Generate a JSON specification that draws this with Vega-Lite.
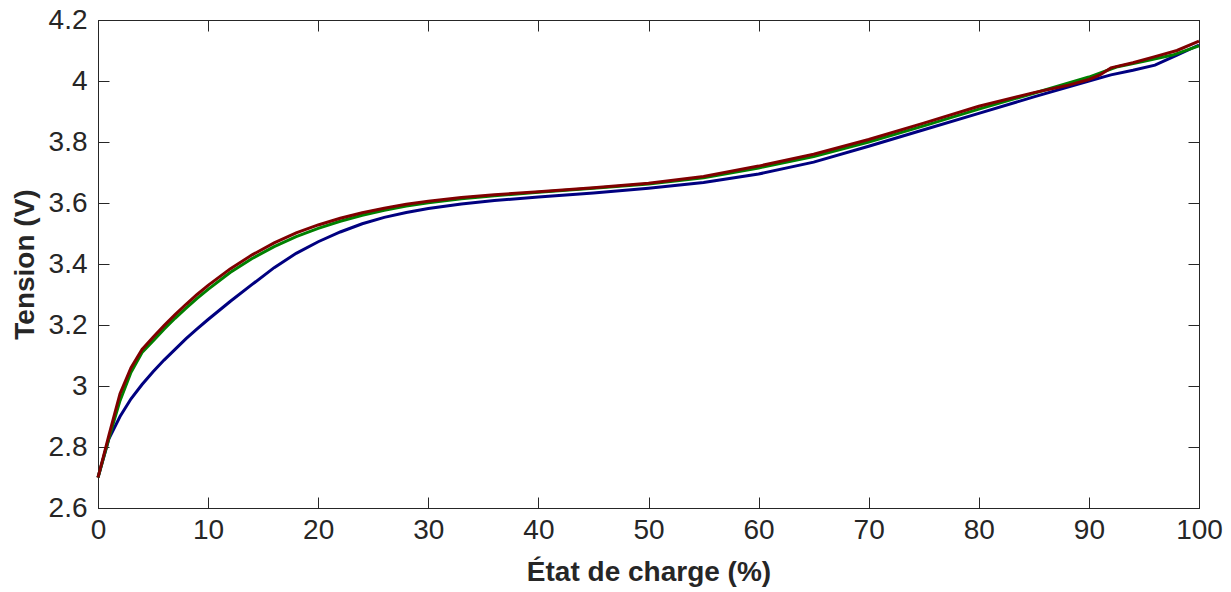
{
  "$schema": "https://vega.github.io/schema/vega-lite/v6.json",
  "autosize": "none",
  "padding": {"left": 98, "top": 20, "right": 32, "bottom": 84},
  "width": 1101,
  "height": 488,
  "background": "white",
  "config": {
    "view": {"stroke": "#262626", "strokeWidth": 1},
    "axis": {
      "grid": false,
      "domainColor": "#262626",
      "tickColor": "#262626",
      "tickSize": -11,
      "labelFont": "Liberation Sans",
      "labelFontSize": 28,
      "labelColor": "#262626",
      "labelFlush": false,
      "labelOverlap": false,
      "labelBound": false,
      "titleFont": "Liberation Sans",
      "titleFontSize": 28,
      "titleFontWeight": "bold",
      "titleColor": "#262626"
    }
  },
  "data": {
    "values": [
      {"soc": 0, "v": 2.70, "s": "S1"},
      {"soc": 1, "v": 2.828, "s": "S1"},
      {"soc": 2, "v": 2.90, "s": "S1"},
      {"soc": 3, "v": 2.958, "s": "S1"},
      {"soc": 4, "v": 3.005, "s": "S1"},
      {"soc": 5, "v": 3.047, "s": "S1"},
      {"soc": 6, "v": 3.085, "s": "S1"},
      {"soc": 7, "v": 3.12, "s": "S1"},
      {"soc": 8, "v": 3.155, "s": "S1"},
      {"soc": 9, "v": 3.187, "s": "S1"},
      {"soc": 10, "v": 3.218, "s": "S1"},
      {"soc": 12, "v": 3.277, "s": "S1"},
      {"soc": 14, "v": 3.333, "s": "S1"},
      {"soc": 16, "v": 3.388, "s": "S1"},
      {"soc": 18, "v": 3.435, "s": "S1"},
      {"soc": 20, "v": 3.473, "s": "S1"},
      {"soc": 22, "v": 3.505, "s": "S1"},
      {"soc": 24, "v": 3.532, "s": "S1"},
      {"soc": 26, "v": 3.553, "s": "S1"},
      {"soc": 28, "v": 3.569, "s": "S1"},
      {"soc": 30, "v": 3.582, "s": "S1"},
      {"soc": 33, "v": 3.597, "s": "S1"},
      {"soc": 36, "v": 3.608, "s": "S1"},
      {"soc": 40, "v": 3.62, "s": "S1"},
      {"soc": 45, "v": 3.633, "s": "S1"},
      {"soc": 50, "v": 3.648, "s": "S1"},
      {"soc": 55, "v": 3.667, "s": "S1"},
      {"soc": 60, "v": 3.695, "s": "S1"},
      {"soc": 65, "v": 3.734, "s": "S1"},
      {"soc": 70, "v": 3.786, "s": "S1"},
      {"soc": 75, "v": 3.84, "s": "S1"},
      {"soc": 80, "v": 3.894, "s": "S1"},
      {"soc": 85, "v": 3.948, "s": "S1"},
      {"soc": 90, "v": 4.0, "s": "S1"},
      {"soc": 92, "v": 4.02, "s": "S1"},
      {"soc": 94, "v": 4.035, "s": "S1"},
      {"soc": 96, "v": 4.052, "s": "S1"},
      {"soc": 98, "v": 4.085, "s": "S1"},
      {"soc": 100, "v": 4.118, "s": "S1"},

      {"soc": 0, "v": 2.70, "s": "S2"},
      {"soc": 1, "v": 2.83, "s": "S2"},
      {"soc": 2, "v": 2.952, "s": "S2"},
      {"soc": 3, "v": 3.045, "s": "S2"},
      {"soc": 4, "v": 3.11, "s": "S2"},
      {"soc": 5, "v": 3.148, "s": "S2"},
      {"soc": 6, "v": 3.186, "s": "S2"},
      {"soc": 7, "v": 3.222, "s": "S2"},
      {"soc": 8, "v": 3.255, "s": "S2"},
      {"soc": 9, "v": 3.287, "s": "S2"},
      {"soc": 10, "v": 3.317, "s": "S2"},
      {"soc": 12, "v": 3.372, "s": "S2"},
      {"soc": 14, "v": 3.418, "s": "S2"},
      {"soc": 16, "v": 3.457, "s": "S2"},
      {"soc": 18, "v": 3.49, "s": "S2"},
      {"soc": 20, "v": 3.517, "s": "S2"},
      {"soc": 22, "v": 3.54, "s": "S2"},
      {"soc": 24, "v": 3.56, "s": "S2"},
      {"soc": 26, "v": 3.576, "s": "S2"},
      {"soc": 28, "v": 3.59, "s": "S2"},
      {"soc": 30, "v": 3.601, "s": "S2"},
      {"soc": 33, "v": 3.614, "s": "S2"},
      {"soc": 36, "v": 3.624, "s": "S2"},
      {"soc": 40, "v": 3.635, "s": "S2"},
      {"soc": 45, "v": 3.648, "s": "S2"},
      {"soc": 50, "v": 3.662, "s": "S2"},
      {"soc": 55, "v": 3.683, "s": "S2"},
      {"soc": 60, "v": 3.715, "s": "S2"},
      {"soc": 65, "v": 3.752, "s": "S2"},
      {"soc": 70, "v": 3.80, "s": "S2"},
      {"soc": 75, "v": 3.853, "s": "S2"},
      {"soc": 80, "v": 3.908, "s": "S2"},
      {"soc": 85, "v": 3.96, "s": "S2"},
      {"soc": 90, "v": 4.013, "s": "S2"},
      {"soc": 92.5, "v": 4.046, "s": "S2"},
      {"soc": 95, "v": 4.065, "s": "S2"},
      {"soc": 97.6, "v": 4.085, "s": "S2"},
      {"soc": 100, "v": 4.115, "s": "S2"},

      {"soc": 0, "v": 2.70, "s": "S3"},
      {"soc": 1, "v": 2.84, "s": "S3"},
      {"soc": 2, "v": 2.975, "s": "S3"},
      {"soc": 3, "v": 3.06, "s": "S3"},
      {"soc": 4, "v": 3.12, "s": "S3"},
      {"soc": 5, "v": 3.16, "s": "S3"},
      {"soc": 6, "v": 3.198, "s": "S3"},
      {"soc": 7, "v": 3.234, "s": "S3"},
      {"soc": 8, "v": 3.268, "s": "S3"},
      {"soc": 9, "v": 3.3, "s": "S3"},
      {"soc": 10, "v": 3.33, "s": "S3"},
      {"soc": 12, "v": 3.384, "s": "S3"},
      {"soc": 14, "v": 3.43, "s": "S3"},
      {"soc": 16, "v": 3.469, "s": "S3"},
      {"soc": 18, "v": 3.502, "s": "S3"},
      {"soc": 20, "v": 3.528, "s": "S3"},
      {"soc": 22, "v": 3.55, "s": "S3"},
      {"soc": 24, "v": 3.568, "s": "S3"},
      {"soc": 26, "v": 3.583, "s": "S3"},
      {"soc": 28, "v": 3.596, "s": "S3"},
      {"soc": 30, "v": 3.606, "s": "S3"},
      {"soc": 33, "v": 3.618, "s": "S3"},
      {"soc": 36, "v": 3.627, "s": "S3"},
      {"soc": 40, "v": 3.637, "s": "S3"},
      {"soc": 45, "v": 3.65, "s": "S3"},
      {"soc": 50, "v": 3.665, "s": "S3"},
      {"soc": 55, "v": 3.687, "s": "S3"},
      {"soc": 60, "v": 3.721, "s": "S3"},
      {"soc": 65, "v": 3.76, "s": "S3"},
      {"soc": 70, "v": 3.808, "s": "S3"},
      {"soc": 75, "v": 3.862, "s": "S3"},
      {"soc": 80, "v": 3.917, "s": "S3"},
      {"soc": 85, "v": 3.962, "s": "S3"},
      {"soc": 88, "v": 3.985, "s": "S3"},
      {"soc": 90, "v": 4.005, "s": "S3"},
      {"soc": 91, "v": 4.02, "s": "S3"},
      {"soc": 92, "v": 4.043, "s": "S3"},
      {"soc": 94, "v": 4.06, "s": "S3"},
      {"soc": 96, "v": 4.08, "s": "S3"},
      {"soc": 98, "v": 4.10, "s": "S3"},
      {"soc": 100, "v": 4.131, "s": "S3"}
    ]
  },
  "layer": [
    {
      "mark": {"type": "line", "strokeWidth": 3},
      "encoding": {
        "x": {"field": "soc", "type": "quantitative",
              "scale": {"domain": [0, 100], "nice": false, "zero": false},
              "axis": {"title": "État de charge (%)", "format": "d", "values": [0,10,20,30,40,50,60,70,80,90,100], "labelPadding": 19, "titlePadding": 14}},
        "y": {"field": "v", "type": "quantitative",
              "scale": {"domain": [2.6, 4.2], "nice": false, "zero": false},
              "axis": {"title": "Tension (V)", "format": "~r", "values": [2.6,2.8,3,3.2,3.4,3.6,3.8,4,4.2], "labelPadding": 22, "titlePadding": 9}},
        "color": {"field": "s", "type": "nominal",
                  "scale": {"domain": ["S1", "S2", "S3"], "range": ["#000080", "#008000", "#800000"]},
                  "legend": null}
      }
    },
    {
      "mark": {"type": "line", "opacity": 0},
      "encoding": {
        "x": {"field": "soc", "type": "quantitative",
              "axis": {"orient": "top", "title": null, "labels": false, "values": [0,10,20,30,40,50,60,70,80,90,100]}},
        "y": {"field": "v", "type": "quantitative",
              "axis": {"orient": "right", "title": null, "labels": false, "values": [2.6,2.8,3,3.2,3.4,3.6,3.8,4,4.2]}},
        "detail": {"field": "s"}
      }
    }
  ],
  "resolve": {"axis": {"x": "independent", "y": "independent"}}
}
